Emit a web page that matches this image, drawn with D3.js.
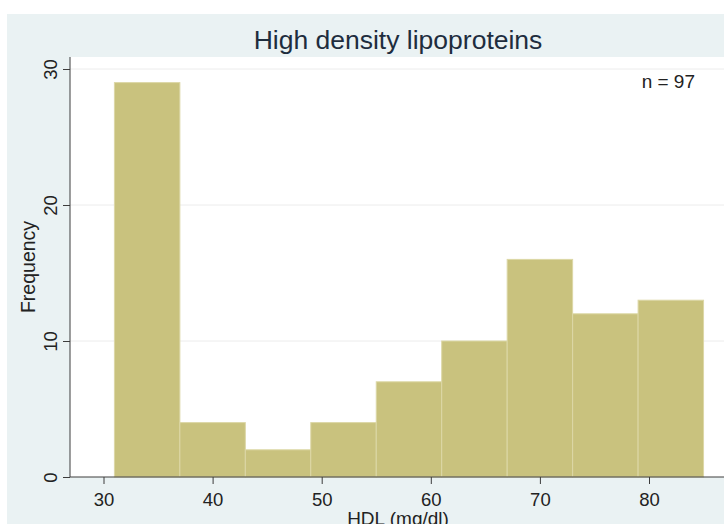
<!DOCTYPE html>
<html>
<head>
<meta charset="utf-8">
<script src="https://cdn.jsdelivr.net/npm/d3@7"></script>
<style>
  body { margin: 0; background: #fff; }
  svg text { font-family: "Liberation Sans", Arial, sans-serif; }
</style>
</head>
<body>
<svg id="chart"></svg>
<script>
// histogram bins (left edges), bin width and counts
const binStarts = [31, 37, 43, 49, 55, 61, 67, 73, 79];
const binWidth = 6;
const counts = [29, 4, 2, 4, 7, 10, 16, 12, 13];
const xTicks = [30, 40, 50, 60, 70, 80];
const yTicks = [0, 10, 20, 30];
const titleText = "High density lipoproteins";
const xLabel = "HDL (mg/dl)";
const yLabel = "Frequency";
const nNote = "n = 97";

const width = 724, height = 524;
const plot = {left: 70, top: 57, right: 724, bottom: 477};

const svg = d3.select("#chart")
    .attr("width", width)
    .attr("height", height);

// graph region (light blue-grey) and plot region (white)
svg.append("rect")
    .attr("x", 7).attr("y", 14)
    .attr("width", width - 7).attr("height", height - 14)
    .attr("fill", "#eaf2f3");
svg.append("rect")
    .attr("x", plot.left).attr("y", plot.top)
    .attr("width", plot.right - plot.left).attr("height", plot.bottom - plot.top)
    .attr("fill", "#ffffff");

const x = d3.scaleLinear().domain([30, 80]).range([103.5, 649]);
const y = d3.scaleLinear().domain([0, 30]).range([plot.bottom, 69]);

// gridlines
svg.append("g")
    .selectAll("line")
    .data(yTicks.filter(d => d > 0))
    .join("line")
    .attr("x1", plot.left).attr("x2", plot.right)
    .attr("y1", d => y(d)).attr("y2", d => y(d))
    .attr("stroke", "#ececec")
    .attr("stroke-width", 1);

// bars
const bins = binStarts.map((b, i) => ({x0: b, x1: b + binWidth, n: counts[i]}));
svg.append("g")
    .selectAll("rect")
    .data(bins)
    .join("rect")
    .attr("x", d => x(d.x0))
    .attr("y", d => y(d.n))
    .attr("width", d => x(d.x1) - x(d.x0))
    .attr("height", d => y(0) - y(d.n))
    .attr("fill", "#c9c27e")
    .attr("stroke", "#dcd7a6")
    .attr("stroke-width", 1);

// y axis
const yAxis = svg.append("g")
    .attr("transform", `translate(${plot.left},0)`)
    .call(d3.axisLeft(y).tickValues(yTicks).tickSize(7).tickSizeOuter(0).tickPadding(0));
yAxis.select(".domain").attr("d", `M0,${plot.top}V${plot.bottom}`).attr("stroke", "#3c3c3c");
yAxis.selectAll(".tick line").attr("stroke", "#3c3c3c");
yAxis.selectAll(".tick text")
    .attr("x", 0).attr("y", 0).attr("dy", null)
    .attr("transform", "translate(-13,0) rotate(-90)")
    .attr("text-anchor", "middle")
    .attr("font-size", 18.5)
    .attr("fill", "#222");

// x axis
const xAxis = svg.append("g")
    .attr("transform", `translate(0,${plot.bottom})`)
    .call(d3.axisBottom(x).tickValues(xTicks).tickSize(7).tickSizeOuter(0).tickPadding(0));
xAxis.select(".domain").attr("d", `M${plot.left},0H${plot.right}`).attr("stroke", "#3c3c3c");
xAxis.selectAll(".tick line").attr("stroke", "#3c3c3c");
xAxis.selectAll(".tick text")
    .attr("y", 29).attr("dy", null)
    .attr("font-size", 18.5)
    .attr("fill", "#222");

// titles
svg.append("text")
    .attr("x", 398).attr("y", 49)
    .attr("text-anchor", "middle")
    .attr("font-size", 26.5)
    .attr("fill", "#1e2d3e")
    .text(titleText);

svg.append("text")
    .attr("x", 398).attr("y", 525)
    .attr("text-anchor", "middle")
    .attr("font-size", 19)
    .attr("fill", "#222")
    .text(xLabel);

svg.append("text")
    .attr("transform", "translate(35,267) rotate(-90)")
    .attr("text-anchor", "middle")
    .attr("font-size", 19.5)
    .attr("fill", "#222")
    .text(yLabel);

svg.append("text")
    .attr("x", 695).attr("y", 88)
    .attr("text-anchor", "end")
    .attr("font-size", 19)
    .attr("fill", "#222")
    .text(nNote);
</script>
</body>
</html>
